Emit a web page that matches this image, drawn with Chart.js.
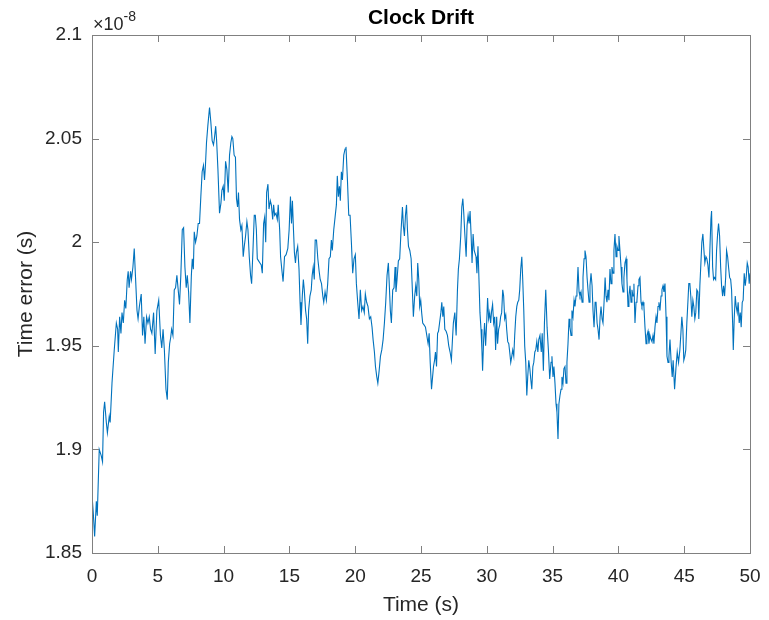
<!DOCTYPE html>
<html>
<head>
<meta charset="utf-8">
<script src="https://cdn.jsdelivr.net/npm/chart.js@4/dist/chart.umd.min.js"></script>
<style>
  html, body { margin: 0; padding: 0; background: #fff; overflow: hidden; }
  #wrap { width: 769px; height: 620px; position: relative; }
</style>
</head>
<body>
<div id="wrap"><canvas id="driftChart"></canvas></div>
<script>
// ===================================
// DATA (time error in units of 1e-8 s)
// ===================================

const timeS = [
  0, 0.1, 0.2, 0.33, 0.4, 0.55, 0.7, 0.8, 0.88, 0.96, 1.09, 1.17, 1.31, 1.38, 1.52, 1.69, 1.85, 1.95, 2.0, 2.1,
  2.2, 2.28, 2.38, 2.48, 2.57, 2.68, 2.75, 2.82, 2.93, 3.0, 3.11, 3.21, 3.3, 3.42, 3.5, 3.6, 3.74, 3.84, 3.94, 4.03,
  4.15, 4.25, 4.35, 4.45, 4.55, 4.68, 4.8, 4.93, 5.07, 5.2, 5.3, 5.4, 5.5, 5.62, 5.72, 5.8, 5.9, 5.98, 6.05, 6.15,
  6.25, 6.35, 6.45, 6.55, 6.65, 6.75, 6.86, 6.96, 7.06, 7.16, 7.24, 7.34, 7.44, 7.55, 7.62, 7.7, 7.77, 7.87, 7.97, 8.07,
  8.17, 8.27, 8.37, 8.47, 8.55, 8.62, 8.7, 8.8, 8.93, 9.03, 9.13, 9.23, 9.3, 9.4, 9.47, 9.57, 9.69, 9.8, 9.87, 9.97,
  10.05, 10.15, 10.25, 10.35, 10.45, 10.55, 10.63, 10.7, 10.8, 10.9, 10.98, 11.06, 11.13, 11.21, 11.31, 11.39, 11.49, 11.57, 11.67, 11.77,
  11.85, 11.95, 12.05, 12.13, 12.23, 12.33, 12.41, 12.49, 12.56, 12.66, 12.76, 12.86, 12.94, 13.04, 13.12, 13.2, 13.27, 13.37, 13.45, 13.55,
  13.63, 13.73, 13.8, 13.88, 13.98, 14.08, 14.15, 14.26, 14.33, 14.42, 14.52, 14.63, 14.75, 14.88, 14.98, 15.08, 15.16, 15.23, 15.31, 15.38,
  15.46, 15.53, 15.63, 15.73, 15.81, 15.88, 15.98, 16.06, 16.13, 16.23, 16.31, 16.39, 16.46, 16.56, 16.66, 16.73, 16.81, 16.89, 16.96, 17.06,
  17.16, 17.26, 17.34, 17.44, 17.54, 17.61, 17.71, 17.81, 17.91, 18.01, 18.11, 18.19, 18.26, 18.37, 18.47, 18.57, 18.64, 18.72, 18.8, 18.87,
  18.95, 19.03, 19.13, 19.23, 19.3, 19.41, 19.51, 19.61, 19.71, 19.81, 19.91, 20.01, 20.09, 20.19, 20.29, 20.39, 20.49, 20.59, 20.69, 20.77,
  20.87, 20.97, 21.08, 21.18, 21.28, 21.36, 21.46, 21.54, 21.64, 21.72, 21.82, 21.92, 22.02, 22.12, 22.22, 22.32, 22.42, 22.52, 22.6, 22.67,
  22.75, 22.85, 22.95, 23.03, 23.1, 23.18, 23.28, 23.38, 23.48, 23.59, 23.66, 23.74, 23.82, 23.9, 23.97, 24.05, 24.15, 24.25, 24.35, 24.42,
  24.52, 24.6, 24.68, 24.75, 24.83, 24.9, 24.98, 25.05, 25.13, 25.24, 25.34, 25.44, 25.54, 25.62, 25.7, 25.8, 25.88, 25.95, 26.03, 26.1,
  26.18, 26.26, 26.33, 26.41, 26.51, 26.58, 26.66, 26.73, 26.81, 26.91, 27.01, 27.11, 27.21, 27.31, 27.39, 27.46, 27.57, 27.67, 27.77, 27.84,
  27.92, 28.02, 28.1, 28.18, 28.25, 28.33, 28.43, 28.5, 28.58, 28.66, 28.73, 28.81, 28.88, 28.96, 29.04, 29.18, 29.25, 29.33, 29.4, 29.48,
  29.56, 29.63, 29.68, 29.76, 29.83, 29.91, 29.99, 30.06, 30.14, 30.22, 30.29, 30.37, 30.44, 30.52, 30.6, 30.67, 30.75, 30.82, 30.9, 30.98,
  31.05, 31.13, 31.21, 31.28, 31.36, 31.44, 31.51, 31.59, 31.67, 31.74, 31.82, 31.9, 31.97, 32.05, 32.12, 32.2, 32.28, 32.35, 32.43, 32.5,
  32.58, 32.66, 32.73, 32.81, 32.88, 32.96, 33.04, 33.11, 33.19, 33.27, 33.34, 33.42, 33.5, 33.57, 33.65, 33.72, 33.8, 33.88, 33.95, 34.04,
  34.14, 34.21, 34.3, 34.38, 34.48, 34.58, 34.68, 34.78, 34.88, 34.95, 35.03, 35.1, 35.18, 35.26, 35.33, 35.41, 35.48, 35.56, 35.64, 35.71,
  35.79, 35.86, 35.94, 36.02, 36.09, 36.17, 36.25, 36.32, 36.4, 36.47, 36.55, 36.63, 36.7, 36.78, 36.85, 36.93, 37.01, 37.08, 37.16, 37.24,
  37.31, 37.39, 37.46, 37.54, 37.62, 37.69, 37.77, 37.84, 37.92, 38.0, 38.07, 38.15, 38.23, 38.3, 38.38, 38.45, 38.53, 38.61, 38.68, 38.76,
  38.83, 38.91, 38.99, 39.06, 39.13, 39.21, 39.28, 39.36, 39.44, 39.51, 39.59, 39.66, 39.74, 39.82, 39.89, 39.97, 40.04, 40.12, 40.2, 40.27,
  40.35, 40.42, 40.5, 40.58, 40.65, 40.73, 40.8, 40.88, 40.96, 41.03, 41.11, 41.18, 41.26, 41.34, 41.41, 41.49, 41.56, 41.64, 41.72, 41.79,
  41.87, 41.94, 42.02, 42.1, 42.17, 42.25, 42.32, 42.4, 42.48, 42.55, 42.63, 42.7, 42.78, 42.86, 42.93, 43.01, 43.08, 43.16, 43.24, 43.31,
  43.39, 43.46, 43.54, 43.62, 43.69, 43.77, 43.84, 43.92, 44.01, 44.09, 44.16, 44.27, 44.37, 44.47, 44.57, 44.67, 44.75, 44.82, 44.9, 44.97,
  45.05, 45.12, 45.2, 45.28, 45.35, 45.43, 45.5, 45.58, 45.66, 45.73, 45.81, 45.88, 45.96, 46.04, 46.11, 46.19, 46.27, 46.34, 46.42, 46.5,
  46.57, 46.65, 46.72, 46.8, 46.88, 46.95, 47.03, 47.08, 47.16, 47.23, 47.31, 47.39, 47.46, 47.54, 47.61, 47.69, 47.77, 47.84, 47.92, 47.99,
  48.07, 48.15, 48.22, 48.3, 48.37, 48.45, 48.53, 48.6, 48.68, 48.73, 48.8, 48.88, 48.95, 49.03, 49.1, 49.18, 49.26, 49.33, 49.41, 49.48,
  49.56, 49.64, 49.71, 49.79, 49.86, 49.94, 50.0
];

const errorE8 = [
  1.878, 1.869, 1.858, 1.875, 1.868, 1.900, 1.897, 1.894, 1.918, 1.923, 1.913, 1.908, 1.916, 1.913, 1.932, 1.948, 1.961, 1.958, 1.947, 1.964,
  1.956, 1.966, 1.961, 1.972, 1.968, 1.982, 1.986, 1.978, 1.986, 1.982, 1.988, 1.997, 1.984, 1.967, 1.963, 1.969, 1.975, 1.955, 1.964, 1.951,
  1.964, 1.961, 1.964, 1.958, 1.956, 1.966, 1.946, 1.967, 1.972, 1.955, 1.949, 1.958, 1.948, 1.929, 1.924, 1.942, 1.951, 1.954, 1.958, 1.955,
  1.977, 1.978, 1.984, 1.977, 1.970, 1.984, 2.006, 2.007, 1.988, 1.978, 1.984, 1.976, 1.961, 1.984, 1.992, 1.987, 2.005, 2.000, 2.003, 2.009,
  2.009, 2.022, 2.034, 2.037, 2.030, 2.037, 2.048, 2.056, 2.065, 2.058, 2.049, 2.047, 2.050, 2.056, 2.049, 2.035, 2.014, 2.019, 2.025, 2.027,
  2.020, 2.039, 2.035, 2.024, 2.042, 2.048, 2.051, 2.050, 2.042, 2.041, 2.021, 2.017, 2.024, 2.011, 2.006, 2.008, 1.993, 1.998, 2.003, 2.010,
  2.006, 1.993, 1.984, 1.980, 1.996, 2.013, 2.013, 2.006, 1.992, 1.991, 1.990, 1.989, 1.985, 2.009, 2.012, 2.000, 2.024, 2.028, 2.016, 2.020,
  2.018, 2.011, 2.018, 2.013, 2.014, 2.011, 2.018, 2.006, 1.993, 1.987, 1.981, 1.993, 1.994, 1.997, 2.006, 2.022, 2.009, 2.020, 2.006, 1.995,
  1.990, 1.995, 1.998, 1.987, 1.971, 1.960, 1.974, 1.982, 1.977, 1.967, 1.963, 1.951, 1.967, 1.974, 1.977, 1.984, 1.988, 1.982, 2.001, 2.001,
  1.992, 1.986, 1.982, 1.980, 1.974, 1.971, 1.976, 1.972, 1.980, 1.992, 1.993, 2.001, 1.996, 2.006, 2.012, 2.018, 2.032, 2.022, 2.027, 2.020,
  2.034, 2.030, 2.042, 2.045, 2.046, 2.030, 2.013, 2.013, 2.000, 1.985, 1.992, 1.994, 1.980, 1.971, 1.963, 1.977, 1.967, 1.969, 1.966, 1.975,
  1.971, 1.969, 1.963, 1.964, 1.959, 1.953, 1.947, 1.940, 1.935, 1.932, 1.938, 1.945, 1.948, 1.953, 1.961, 1.971, 1.984, 1.990, 1.978, 1.967,
  1.961, 1.977, 1.978, 1.988, 1.976, 1.982, 1.991, 1.992, 2.005, 2.017, 2.008, 2.003, 2.013, 2.018, 2.006, 1.998, 1.996, 1.992, 1.976, 1.964,
  1.974, 1.979, 1.974, 1.990, 1.982, 1.969, 1.972, 1.966, 1.961, 1.960, 1.959, 1.955, 1.951, 1.956, 1.942, 1.929, 1.935, 1.940, 1.943, 1.947,
  1.940, 1.956, 1.957, 1.961, 1.966, 1.971, 1.964, 1.969, 1.958, 1.957, 1.955, 1.950, 1.947, 1.943, 1.953, 1.961, 1.966, 1.955, 1.977, 1.987,
  1.992, 2.003, 2.017, 2.021, 2.014, 2.004, 1.993, 2.008, 2.013, 2.009, 2.015, 2.003, 1.990, 2.004, 1.996, 1.993, 1.985, 1.998, 1.983, 1.966,
  1.958, 1.948, 1.938, 1.953, 1.961, 1.950, 1.961, 1.973, 1.963, 1.966, 1.961, 1.967, 1.970, 1.961, 1.964, 1.948, 1.964, 1.951, 1.958, 1.960,
  1.964, 1.966, 1.977, 1.974, 1.963, 1.965, 1.958, 1.952, 1.951, 1.947, 1.942, 1.945, 1.948, 1.945, 1.955, 1.964, 1.969, 1.971, 1.972, 1.977,
  1.987, 1.993, 1.982, 1.967, 1.950, 1.942, 1.926, 1.935, 1.943, 1.939, 1.934, 1.929, 1.940, 1.942, 1.947, 1.948, 1.952, 1.947, 1.953, 1.955,
  1.947, 1.956, 1.938, 1.961, 1.977, 1.959, 1.948, 1.934, 1.942, 1.945, 1.935, 1.940, 1.932, 1.922, 1.918, 1.905, 1.922, 1.926, 1.929, 1.935,
  1.932, 1.939, 1.940, 1.932, 1.942, 1.951, 1.963, 1.959, 1.955, 1.967, 1.964, 1.972, 1.969, 1.974, 1.976, 1.988, 1.976, 1.974, 1.976, 1.971,
  1.983, 1.992, 1.996, 1.993, 1.983, 1.977, 1.971, 1.979, 1.985, 1.979, 1.967, 1.959, 1.971, 1.971, 1.961, 1.958, 1.953, 1.964, 1.969, 1.963,
  1.961, 1.971, 1.983, 1.974, 1.971, 1.977, 1.972, 1.987, 1.980, 1.988, 1.985, 1.996, 2.004, 1.993, 1.998, 1.996, 2.003, 1.996, 1.988, 1.980,
  1.976, 1.983, 1.990, 1.992, 1.982, 1.969, 1.974, 1.979, 1.971, 1.977, 1.974, 1.980, 1.961, 1.971, 1.972, 1.979, 1.982, 1.983, 1.971, 1.969,
  1.971, 1.969, 1.959, 1.951, 1.955, 1.957, 1.951, 1.955, 1.953, 1.952, 1.955, 1.951, 1.959, 1.964, 1.961, 1.969, 1.971, 1.967, 1.974, 1.977,
  1.979, 1.976, 1.980, 1.964, 1.945, 1.942, 1.945, 1.953, 1.942, 1.935, 1.943, 1.929, 1.939, 1.947, 1.942, 1.948, 1.956, 1.964, 1.958, 1.943,
  1.945, 1.948, 1.961, 1.971, 1.980, 1.980, 1.974, 1.964, 1.972, 1.969, 1.963, 1.966, 1.977, 1.976, 1.963, 1.979, 1.990, 2.000, 2.004, 1.996,
  1.990, 1.993, 1.992, 1.989, 1.983, 1.996, 2.011, 2.015, 1.988, 1.982, 1.983, 1.982, 1.996, 2.004, 2.009, 2.003, 1.988, 1.979, 1.974, 1.979,
  1.974, 1.983, 1.996, 1.993, 1.988, 1.983, 1.982, 1.977, 1.961, 1.948, 1.963, 1.974, 1.969, 1.966, 1.971, 1.961, 1.966, 1.959, 1.971, 1.972,
  1.985, 1.979, 1.983, 1.990, 1.988, 1.980, 1.985
];

const xTicks = [0, 5, 10, 15, 20, 25, 30, 35, 40, 45, 50];
const yTicks = [1.85, 1.9, 1.95, 2, 2.05, 2.1];

const TEXT_COLOR = '#262626';
const AXIS_COLOR = '#808080';
const LINE_COLOR = '#0072BD';
const FONT = 'Liberation Sans, Arial, Helvetica, sans-serif';

// ===================================
// BOX, INWARD TICKS, TITLE, EXPONENT
// ===================================

const matlabAxes = {
  id: 'matlabAxes',
  afterDraw(chart) {
    const { ctx, chartArea: a, scales } = chart;
    const tickLen = 7;
    ctx.save();
    ctx.strokeStyle = AXIS_COLOR;
    ctx.lineWidth = 1;
    ctx.strokeRect(a.left + 0.5, a.top + 0.5, a.right - a.left, a.bottom - a.top);

    ctx.beginPath();
    xTicks.forEach(v => {
      const x = Math.round(scales.x.getPixelForValue(v)) + 0.5;
      ctx.moveTo(x, a.bottom); ctx.lineTo(x, a.bottom - tickLen);
      ctx.moveTo(x, a.top); ctx.lineTo(x, a.top + tickLen);
    });
    yTicks.forEach(v => {
      const y = Math.round(scales.y.getPixelForValue(v)) + 0.5;
      ctx.moveTo(a.left, y); ctx.lineTo(a.left + tickLen, y);
      ctx.moveTo(a.right, y); ctx.lineTo(a.right - tickLen, y);
    });
    ctx.stroke();

    // title
    ctx.fillStyle = '#000';
    ctx.font = 'bold 21px ' + FONT;
    ctx.textAlign = 'center';
    ctx.textBaseline = 'middle';
    ctx.fillText('Clock Drift', (a.left + a.right) / 2, 18);

    // exponent label
    ctx.fillStyle = TEXT_COLOR;
    ctx.textAlign = 'left';
    ctx.textBaseline = 'alphabetic';
    ctx.font = '18px ' + FONT;
    const base = '\u00d710';
    ctx.fillText(base, a.left + 1, 30);
    const w = ctx.measureText(base).width;
    ctx.font = '14px ' + FONT;
    ctx.fillText('-8', a.left + 1 + w, 21);
    ctx.restore();
  }
};

// ===================================
// CHART
// ===================================

function createDriftChart() {
  const ctx = document.getElementById('driftChart');

  new Chart(ctx, {
    type: 'line',
    data: {
      datasets: [{
        label: 'Time error',
        data: timeS.map((t, i) => ({ x: t, y: errorE8[i] })),
        borderColor: LINE_COLOR,
        borderWidth: 1.1,
        pointRadius: 0,
        tension: 0,
        fill: false
      }]
    },
    options: {
      responsive: true,
      maintainAspectRatio: false,
      animation: false,
      layout: { padding: { top: 35, right: 19, left: 0, bottom: 0 } },
      plugins: {
        legend: { display: false },
        tooltip: { enabled: false }
      },
      scales: {
        x: {
          type: 'linear',
          min: 0,
          max: 50,
          afterBuildTicks: scale => { scale.ticks = xTicks.map(v => ({ value: v })); },
          afterFit: scale => {
            scale.height = 67;
            scale.paddingLeft = 0;
            scale.paddingRight = 0;
          },
          grid: { display: false, drawTicks: false },
          border: { display: false },
          ticks: {
            color: TEXT_COLOR,
            font: { family: FONT, size: 19 },
            padding: 12,
            maxRotation: 0
          },
          title: {
            display: true,
            text: 'Time (s)',
            color: TEXT_COLOR,
            font: { family: FONT, size: 21 },
            padding: { top: 0, bottom: 2 }
          }
        },
        y: {
          min: 1.85,
          max: 2.1,
          afterBuildTicks: scale => { scale.ticks = yTicks.map(v => ({ value: v })); },
          afterFit: scale => {
            scale.width = 92;
            scale.paddingTop = 0;
            scale.paddingBottom = 0;
          },
          grid: { display: false, drawTicks: false },
          border: { display: false },
          ticks: {
            color: TEXT_COLOR,
            font: { family: FONT, size: 19 },
            padding: 10,
            callback: v => String(Math.round(v * 100) / 100)
          },
          title: {
            display: true,
            text: 'Time error (s)',
            color: TEXT_COLOR,
            font: { family: FONT, size: 21 },
            padding: { top: 14, bottom: 0 }
          }
        }
      }
    },
    plugins: [matlabAxes]
  });
}

document.addEventListener('DOMContentLoaded', createDriftChart);
</script>
</body>
</html>
